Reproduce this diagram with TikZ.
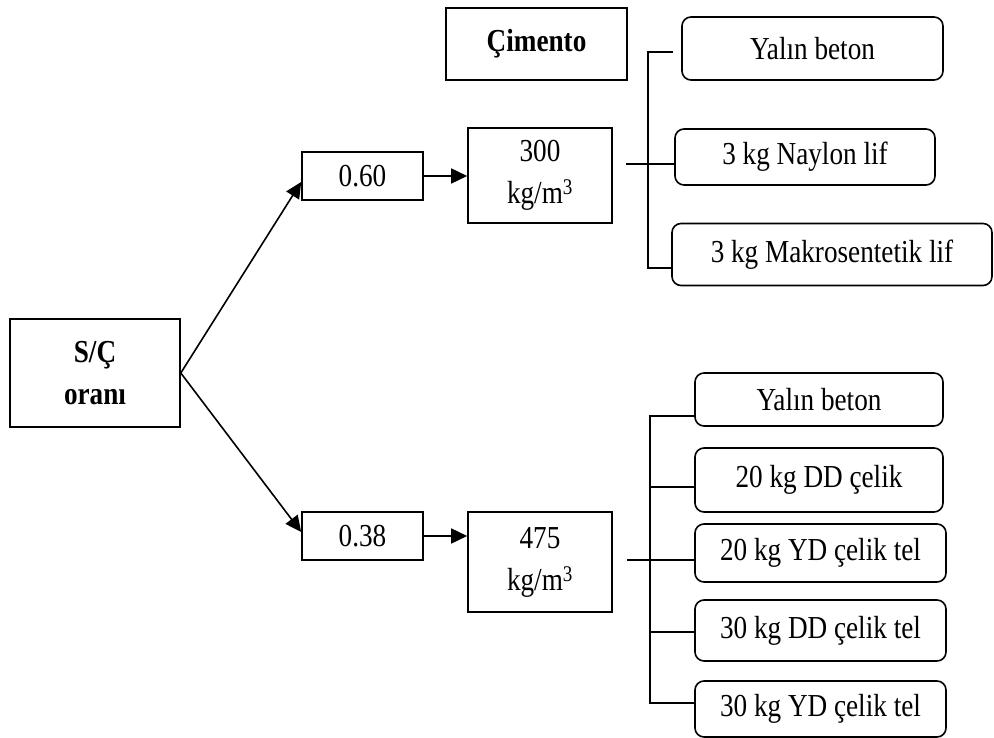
\documentclass[tikz,border=0pt]{standalone}
\usepackage{fontspec}
\setmainfont{Liberation Serif}[FakeStretch=0.85]
\usetikzlibrary{arrows.meta}
\begin{document}
\begin{tikzpicture}[x=1pt,y=-1pt, line width=1.6pt,
  box/.style={draw, rectangle, inner sep=0pt, align=center, font=\fontsize{32}{42}\selectfont},
  rbox/.style={box, rounded corners=9pt},
  arr/.style={-{Triangle[length=16pt,width=15pt]}}]
\useasboundingbox (0,0) rectangle (994,738);
% main boxes
\node[box, minimum width=181pt, minimum height=72pt] (cim) at (536.5,44) {\raisebox{6pt}{\textbf{Çimento}}};
\node[box, minimum width=170pt, minimum height=108pt] (sc) at (95,373) {\textbf{S/Ç}\\\textbf{oranı}};
\node[box, minimum width=121pt, minimum height=48pt] (b60) at (362.5,176) {0.60};
\node[box, minimum width=121pt, minimum height=48pt] (b38) at (362.5,536) {0.38};
\node[box, minimum width=144pt, minimum height=95pt] (c300) at (540,175.5) {300\\kg/m\textsuperscript{3}};
\node[box, minimum width=144pt, minimum height=100pt] (c475) at (540,562) {475\\kg/m\textsuperscript{3}};
% top options
\node[rbox, minimum width=261pt, minimum height=63pt] (t1) at (812.5,48.5) {Yalın beton};
\node[rbox, minimum width=260pt, minimum height=56pt] (t2) at (805,157) {3 kg Naylon lif};
\node[rbox, minimum width=320pt, minimum height=62pt] (t3) at (832,254.5) {3 kg Makrosentetik lif};
% bottom options
\node[rbox, minimum width=248pt, minimum height=53pt] (u1) at (819,399.5) {Yalın beton};
\node[rbox, minimum width=248pt, minimum height=64pt] (u2) at (819,480) {20 kg DD çelik};
\node[rbox, minimum width=251pt, minimum height=58pt] (u3) at (820.5,553) {20 kg YD çelik tel};
\node[rbox, minimum width=251pt, minimum height=61pt] (u4) at (820.5,630.5) {30 kg DD çelik tel};
\node[rbox, minimum width=251pt, minimum height=56pt] (u5) at (820.5,709) {30 kg YD çelik tel};
% arrows
\draw[arr] (sc.east) -- ([yshift=-6pt]b60.west);
\draw[arr] (sc.east) -- ([yshift=4pt]b38.west);
\draw[arr] (b60.east) -- (b60.east -| c300.west);
\draw[arr] (b38.east) -- (b38.east -| c475.west);
% top bracket
\coordinate (ta) at (648,52);
\coordinate (tb) at (648,268);
\coordinate (tstub) at (673,52);
\coordinate (tm) at (626,164);
\draw (tstub) -- (ta) -- (tb) -- (tb -| t3.west);
\draw (tm) -- (tm -| t2.west);
% bottom bracket
\coordinate (ua) at (650,416);
\coordinate (ub) at (650,703);
\coordinate (u2c) at (650,487);
\coordinate (u4c) at (650,632);
\coordinate (um) at (627,560);
\draw (ua -| u1.west) -- (ua) -- (ub) -- (ub -| u5.west);
\draw (u2c) -- (u2c -| u2.west);
\draw (u4c) -- (u4c -| u4.west);
\draw (um) -- (um -| u3.west);
\end{tikzpicture}
\end{document}
